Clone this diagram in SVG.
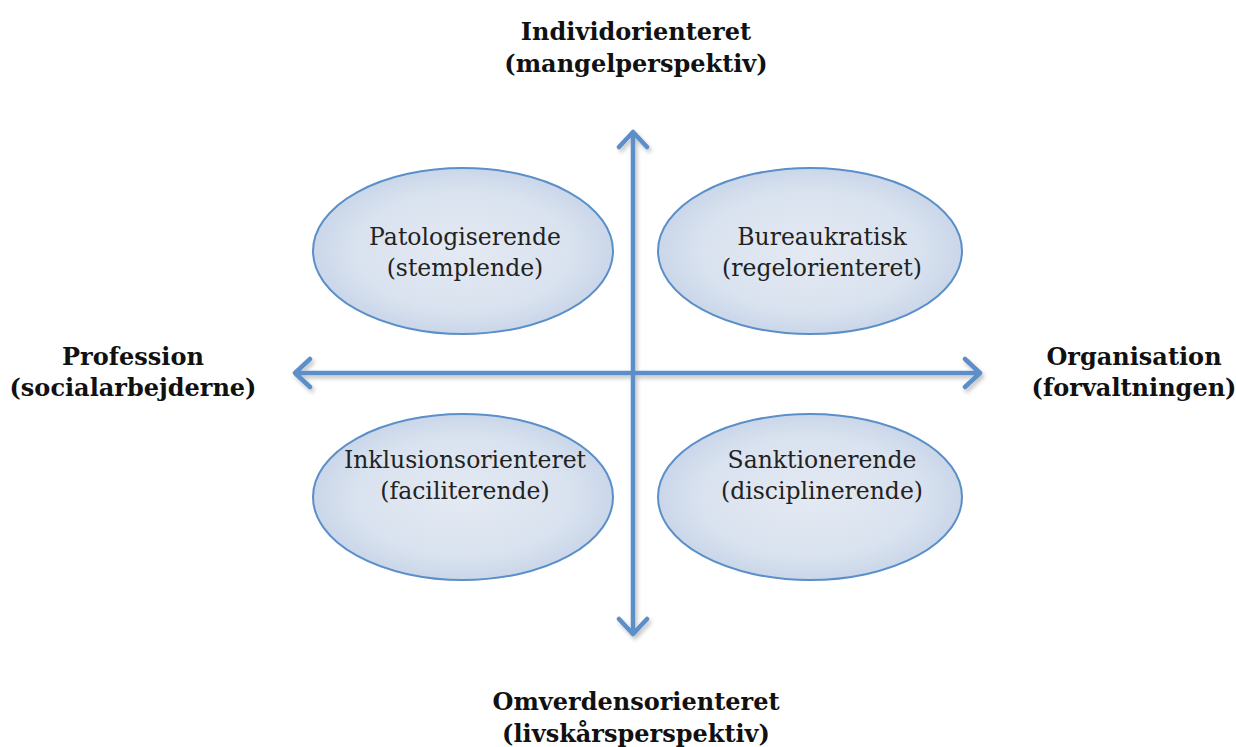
<svg xmlns="http://www.w3.org/2000/svg" width="1236" height="747" viewBox="0 0 1236 747">
<defs>
<style>
.lbl{font-family:"DejaVu Serif","Liberation Serif",serif;font-weight:bold;font-size:24px;fill:#111;text-anchor:middle}
.nt{font-family:"DejaVu Serif","Liberation Serif",serif;font-size:23.5px;fill:#222;text-anchor:middle}
.ell{fill:url(#g);stroke:#5b8fc9;stroke-width:2}
.ax{fill:none;stroke:#5b8fc9;stroke-width:4.5;stroke-linecap:round;stroke-linejoin:round}
</style>
<radialGradient id="g" cx="50%" cy="50%" r="60%">
<stop offset="0" stop-color="#e4eaf3"/>
<stop offset="0.6" stop-color="#d9e2ef"/>
<stop offset="1" stop-color="#bfcfe5"/>
</radialGradient>
<filter id="sh" x="-10%" y="-10%" width="120%" height="120%">
<feGaussianBlur in="SourceAlpha" stdDeviation="2"/>
<feOffset dx="2" dy="3"/>
<feComponentTransfer><feFuncA type="linear" slope="0.25"/></feComponentTransfer>
<feMerge><feMergeNode/><feMergeNode in="SourceGraphic"/></feMerge>
</filter>
</defs>
<rect width="1236" height="747" fill="#fff"/>
<g id="n-tl"><ellipse class="ell" cx="463" cy="251" rx="150" ry="83"/><text class="nt" x="465" y="245">Patologiserende</text><text class="nt" x="465" y="276">(stemplende)</text></g>
<g id="n-tr"><ellipse class="ell" cx="810" cy="251" rx="152" ry="83"/><text class="nt" x="822" y="245">Bureaukratisk</text><text class="nt" x="822" y="276">(regelorienteret)</text></g>
<g id="n-bl"><ellipse class="ell" cx="463" cy="497" rx="150" ry="83"/><text class="nt" x="465" y="468">Inklusionsorienteret</text><text class="nt" x="465" y="499">(faciliterende)</text></g>
<g id="n-br"><ellipse class="ell" cx="810" cy="497" rx="152" ry="83"/><text class="nt" x="822" y="468">Sanktionerende</text><text class="nt" x="822" y="499">(disciplinerende)</text></g>
<g id="connectors" filter="url(#sh)">
<path class="ax" d="M633 634 V132 M619 147 L633 132 L647 147 M619 619 L633 634 L647 619"/>
<path class="ax" d="M295 373 H980 M310 359 L295 373 L310 387 M965 359 L980 373 L965 387"/>
</g>
<g id="l-top"><text class="lbl" x="636" y="40">Individorienteret</text><text class="lbl" x="636" y="72">(mangelperspektiv)</text></g>
<g id="l-bottom"><text class="lbl" x="636" y="710">Omverdensorienteret</text><text class="lbl" x="636" y="742">(livskårsperspektiv)</text></g>
<g id="l-left"><text class="lbl" x="133" y="365">Profession</text><text class="lbl" x="133" y="396">(socialarbejderne)</text></g>
<g id="l-right"><text class="lbl" x="1134" y="365">Organisation</text><text class="lbl" x="1134" y="396">(forvaltningen)</text></g>
</svg>
